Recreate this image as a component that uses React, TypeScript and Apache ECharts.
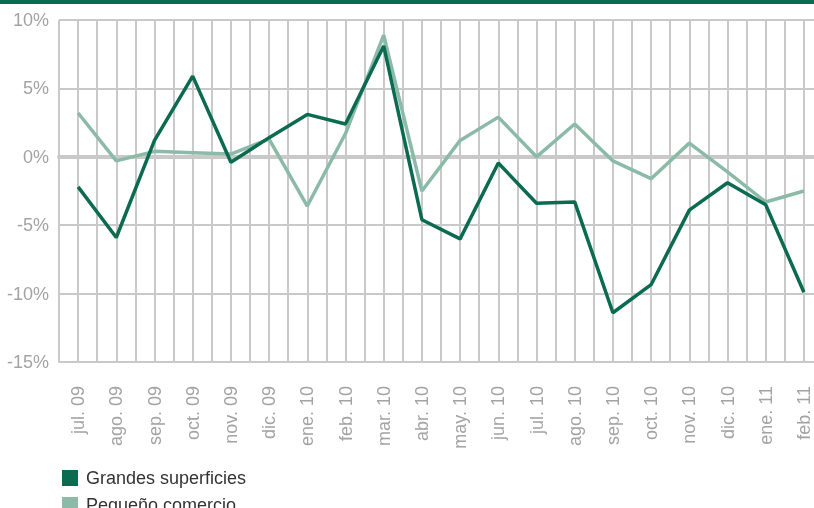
import React, { useEffect, useRef } from "react";
import * as echarts from "echarts";

const categories = [
  "jul. 09", "ago. 09", "sep. 09", "oct. 09", "nov. 09", "dic. 09", "ene. 10",
  "feb. 10", "mar. 10", "abr. 10", "may. 10", "jun. 10", "jul. 10", "ago. 10",
  "sep. 10", "oct. 10", "nov. 10", "dic. 10", "ene. 11", "feb. 11",
];

const grandesSuperficies = [
  -2.2, -5.9, 1.2, 5.9, -0.4, 1.4, 3.1, 2.4, 8.1, -4.6, -6.0, -0.45, -3.4,
  -3.3, -11.4, -9.35, -3.9, -1.9, -3.5, -9.9,
];

const pequenoComercio = [
  3.2, -0.3, 0.4, 0.3, 0.2, 1.3, -3.6, 1.7, 8.9, -2.5, 1.2, 2.9, 0.0, 2.4,
  -0.3, -1.6, 1.0, -1.1, -3.3, -2.5,
];

const seriesNames = ["Grandes superficies", "Pequeño comercio"];
const seriesColors = ["#0b6b50", "#8bbaa8"];

const halfSlots = Array.from({ length: categories.length * 2 }, (_, i) => String(i));

export default function App() {
  const ref = useRef<HTMLDivElement>(null);
  useEffect(() => {
    document.body.style.margin = "0";
    document.body.style.overflow = "hidden";
    document.documentElement.style.overflow = "hidden";
    const chart = echarts.init(ref.current!, null, { renderer: "svg" });
    const gridColor = "#c9c9c9";
    const font = "Liberation Sans, Arial, sans-serif";
    const legendBase = {
      orient: "vertical",
      left: 57,
      itemWidth: 16,
      itemHeight: 16,
      icon: "rect",
      textStyle: {
        fontSize: 18,
        color: "#333333",
        padding: [0, 0, 0, 3],
        fontFamily: font,
      },
    };
    chart.setOption({
      animation: false,
      textStyle: { fontFamily: font },
      graphic: [
        {
          type: "rect",
          left: 0,
          top: 0,
          shape: { x: 0, y: 0, width: 830, height: 4 },
          style: { fill: "#0b6b50" },
        },
      ],
      grid: { left: 59, top: 20, bottom: 146, width: 764, containLabel: false },
      legend: [
        { ...legendBase, top: 464, data: [seriesNames[0]] },
        { ...legendBase, top: 491, data: [seriesNames[1]] },
      ],
      xAxis: [
        {
          type: "category",
          data: categories,
          boundaryGap: true,
          position: "bottom",
          axisLine: { onZero: false, lineStyle: { color: gridColor, width: 2 } },
          axisTick: {
            alignWithLabel: true,
            length: 10,
            lineStyle: { color: gridColor, width: 2 },
          },
          splitLine: { show: false },
          axisLabel: {
            rotate: 90,
            interval: 0,
            margin: 24,
            fontSize: 18,
            color: "#a3a3a3",
            fontFamily: font,
          },
        },
        {
          type: "category",
          data: halfSlots,
          boundaryGap: true,
          position: "bottom",
          axisLine: { show: true, onZero: true, lineStyle: { color: gridColor, width: 4 } },
          axisTick: { show: false },
          axisLabel: { show: false },
          splitLine: {
            show: true,
            interval: 0,
            lineStyle: { color: gridColor, width: 2 },
          },
        },
      ],
      yAxis: {
        type: "value",
        min: -15,
        max: 10,
        interval: 5,
        axisLine: { show: false },
        axisTick: { show: false },
        axisLabel: {
          formatter: "{value}%",
          fontSize: 18,
          color: "#a3a3a3",
          margin: 10,
          fontFamily: font,
        },
        splitLine: { show: true, lineStyle: { color: gridColor, width: 2 } },
      },
      series: [
        {
          name: seriesNames[1],
          type: "line",
          xAxisIndex: 0,
          data: pequenoComercio,
          symbol: "none",
          lineStyle: { color: seriesColors[1], width: 3.5 },
          itemStyle: { color: seriesColors[1] },
          z: 3,
        },
        {
          name: seriesNames[0],
          type: "line",
          xAxisIndex: 0,
          data: grandesSuperficies,
          symbol: "none",
          lineStyle: { color: seriesColors[0], width: 3.5 },
          itemStyle: { color: seriesColors[0] },
          z: 4,
        },
      ],
    });
    return () => chart.dispose();
  }, []);
  return (
    <div
      ref={ref}
      style={{ position: "fixed", left: 0, top: 0, width: 830, height: 508 }}
    />
  );
}
